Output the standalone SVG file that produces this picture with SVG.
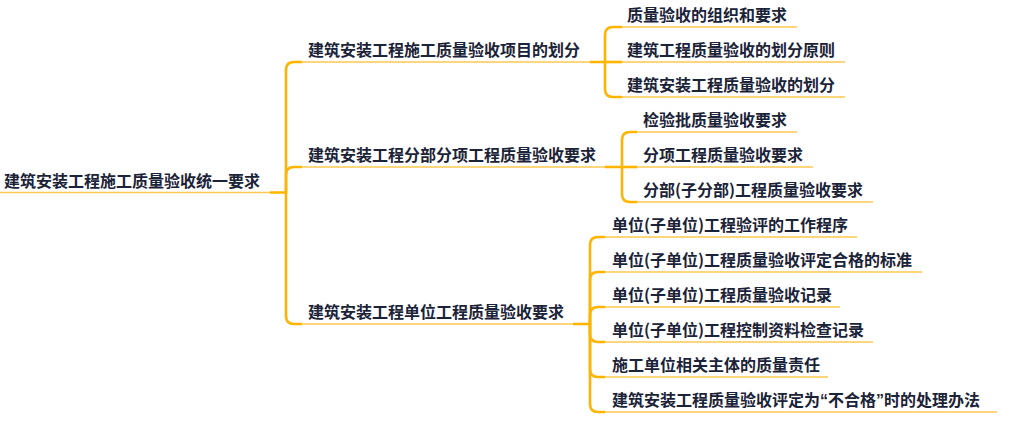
<svg xmlns="http://www.w3.org/2000/svg" width="1024" height="422" viewBox="0 0 1024 422">
<style>
text{font-family:"Noto Sans CJK SC","Noto Sans",sans-serif;font-weight:bold;font-size:16px;fill:#1b2338}
.q{font-family:"Liberation Sans","Noto Sans CJK SC",sans-serif}
.ul{stroke:#FFC850;stroke-width:1.6;fill:none}
.cn{stroke:#FFB400;stroke-width:2.6;fill:none;stroke-linecap:butt}
</style>
<rect width="1024" height="422" fill="#ffffff"/>
<g id="connectors">
<path class="cn" d="M270,192.5 H286 V70 Q286,62 294,62 H302"/>
<path class="cn" d="M286,192.5 V175 Q286,167 294,167 H302"/>
<path class="cn" d="M286,192.5 V316 Q286,324 294,324 H302"/>
<path class="cn" d="M590,62 H605 V35 Q605,27 613,27 H622"/>
<path class="cn" d="M605,62 H622"/>
<path class="cn" d="M605,62 V89 Q605,97 613,97 H622"/>
<path class="cn" d="M605,167 H622 V140 Q622,132 630,132 H637"/>
<path class="cn" d="M622,167 H637"/>
<path class="cn" d="M622,167 V194 Q622,202 630,202 H637"/>
<path class="cn" d="M573,324 H590 V245 Q590,237 598,237 H605"/>
<path class="cn" d="M590,324 V280 Q590,272 598,272 H605"/>
<path class="cn" d="M590,324 V315 Q590,307 598,307 H605"/>
<path class="cn" d="M590,324 V334 Q590,342 598,342 H605"/>
<path class="cn" d="M590,324 V369 Q590,377 598,377 H605"/>
<path class="cn" d="M590,324 V404 Q590,412 598,412 H605"/>
</g>
<g id="root">
<line class="ul" x1="0" y1="192.5" x2="270" y2="192.5"/>
<text x="4" y="187">建筑安装工程施工质量验收统一要求</text>
</g>
<g id="b1">
<line class="ul" x1="302" y1="62" x2="590" y2="62"/>
<text x="308" y="56">建筑安装工程施工质量验收项目的划分</text>
</g>
<g id="b2">
<line class="ul" x1="302" y1="167" x2="605" y2="167"/>
<text x="308" y="161">建筑安装工程分部分项工程质量验收要求</text>
</g>
<g id="b3">
<line class="ul" x1="302" y1="324" x2="573" y2="324"/>
<text x="308" y="318">建筑安装工程单位工程质量验收要求</text>
</g>
<g id="b1c1"><line class="ul" x1="622" y1="27" x2="797" y2="27"/><text x="627" y="21">质量验收的组织和要求</text></g>
<g id="b1c2"><line class="ul" x1="622" y1="62" x2="845" y2="62"/><text x="627" y="56">建筑工程质量验收的划分原则</text></g>
<g id="b1c3"><line class="ul" x1="622" y1="97" x2="845" y2="97"/><text x="627" y="91">建筑安装工程质量验收的划分</text></g>
<g id="b2c1"><line class="ul" x1="637" y1="132" x2="797" y2="132"/><text x="643" y="126">检验批质量验收要求</text></g>
<g id="b2c2"><line class="ul" x1="637" y1="167" x2="813" y2="167"/><text x="643" y="161">分项工程质量验收要求</text></g>
<g id="b2c3"><line class="ul" x1="637" y1="202" x2="873" y2="202"/><text x="643" y="196">分部(子分部)工程质量验收要求</text></g>
<g id="b3c1"><line class="ul" x1="605" y1="237" x2="857" y2="237"/><text x="612" y="231">单位(子单位)工程验评的工作程序</text></g>
<g id="b3c2"><line class="ul" x1="605" y1="272" x2="922" y2="272"/><text x="612" y="266">单位(子单位)工程质量验收评定合格的标准</text></g>
<g id="b3c3"><line class="ul" x1="605" y1="307" x2="840" y2="307"/><text x="612" y="301">单位(子单位)工程质量验收记录</text></g>
<g id="b3c4"><line class="ul" x1="605" y1="342" x2="873" y2="342"/><text x="612" y="336">单位(子单位)工程控制资料检查记录</text></g>
<g id="b3c5"><line class="ul" x1="605" y1="377" x2="828" y2="377"/><text x="612" y="371">施工单位相关主体的质量责任</text></g>
<g id="b3c6"><line class="ul" x1="605" y1="412" x2="997" y2="412"/><text x="612" y="406">建筑安装工程质量验收评定为<tspan class="q">“</tspan>不合格<tspan class="q">”</tspan>时的处理办法</text></g>
</svg>
